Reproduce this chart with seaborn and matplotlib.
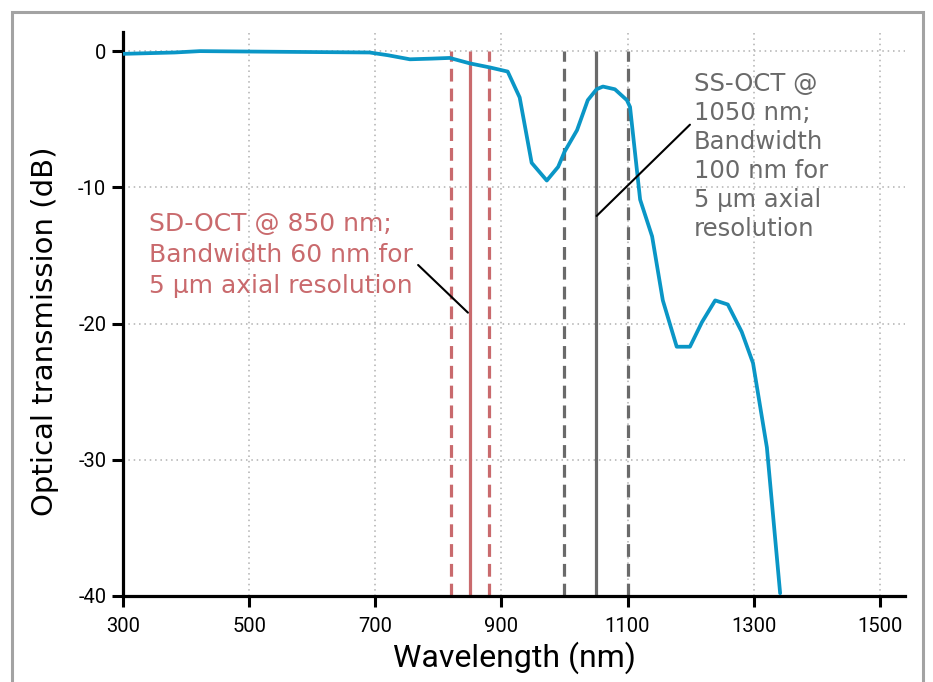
import numpy as np
import pandas as pd
import matplotlib
matplotlib.use("Agg")
import matplotlib.pyplot as plt
import seaborn as sns
from matplotlib.patches import Rectangle

# ----------------------------------------
# Data
# ----------------------------------------
wavelength_nm = [300, 382, 422, 550, 691, 720, 755, 790, 818, 850, 882, 910,
                 929, 948, 972, 990, 1000, 1020, 1037, 1051, 1061, 1080,
                 1099, 1104, 1120, 1139, 1156, 1178, 1199, 1218, 1239,
                 1259, 1281, 1299, 1321, 1342]
transmission_db = [-0.2, -0.1, 0.0, -0.05, -0.1, -0.3, -0.6, -0.55, -0.5,
                   -0.9, -1.2, -1.5, -3.4, -8.2, -9.5, -8.5, -7.4, -5.8,
                   -3.6, -2.8, -2.6, -2.8, -3.6, -4.1, -10.9, -13.6, -18.3,
                   -21.7, -21.7, -19.9, -18.3, -18.6, -20.6, -22.9, -29.1,
                   -39.8]

sd_center = 850
sd_edges = [820, 880]
ss_center = 1050
ss_edges = [1000, 1100]

x_ticks = [300, 500, 700, 900, 1100, 1300, 1500]
y_ticks = [0, -10, -20, -30, -40]

df = pd.DataFrame({"Wavelength": wavelength_nm, "Transmission": transmission_db})

# ----------------------------------------
# Style
# ----------------------------------------
sns.set_style("ticks")
plt.rcParams["font.family"] = ["DejaVu Sans"]
plt.rcParams["axes.unicode_minus"] = False

blue = "#0a96c6"
red = "#c96a6d"
gray = "#6a6a6a"

fig = plt.figure(figsize=(9.33, 6.82), dpi=100)
ax = fig.add_axes([0.1318, 0.1261, 0.970 - 0.1318, 0.953 - 0.1261])

# outer frame
fig.patches.append(Rectangle((0.0129, -0.05), 0.989 - 0.0129, 0.9824 + 0.05,
                             transform=fig.transFigure, fill=False,
                             edgecolor="#a3a3a3", linewidth=2.2, zorder=0))

# ----------------------------------------
# Grid
# ----------------------------------------
for xv in x_ticks[1:]:
    ax.axvline(xv, color="#b0b0b0", linestyle=(0, (1, 2.5)), linewidth=1.1, zorder=0)
for yv in y_ticks[:-1]:
    ax.axhline(yv, color="#b0b0b0", linestyle=(0, (1, 2.5)), linewidth=1.1, zorder=0)

# ----------------------------------------
# Band markers
# ----------------------------------------
ax.vlines(sd_edges, -40, 0, colors=red, linestyles=(0, (4, 2.2)), linewidth=2.3, zorder=2)
ax.vlines([sd_center], -40, 0, colors=red, linewidth=2.3, zorder=2)
ax.vlines(ss_edges, -40, 0, colors=gray, linestyles=(0, (4, 2.2)), linewidth=2.3, zorder=2)
ax.vlines([ss_center], -40, 0, colors=gray, linewidth=2.3, zorder=2)

# ----------------------------------------
# Transmission curve
# ----------------------------------------
sns.lineplot(data=df, x="Wavelength", y="Transmission", ax=ax,
             color=blue, linewidth=2.7, sort=False, zorder=3)

# ----------------------------------------
# Annotations
# ----------------------------------------
ax.text(342, -11.8, "SD-OCT @ 850 nm;\nBandwidth 60 nm for\n5 \u00b5m axial resolution",
        color=red, fontsize=18, va="top", ha="left", linespacing=1.36)
ax.plot([768, 847], [-15.7, -19.2], color="black", linewidth=1.5, zorder=4)

ax.text(1205, -1.5, "SS-OCT @\n1050 nm;\nBandwidth\n100 nm for\n5 \u00b5m axial\nresolution",
        color=gray, fontsize=17.5, va="top", ha="left", linespacing=1.27)
ax.plot([1199, 1051], [-5.4, -12.1], color="black", linewidth=1.5, zorder=4)

# ----------------------------------------
# Axes
# ----------------------------------------
ax.set_xlim(300, 1540)
ax.set_ylim(-40, 1.4)
ax.set_xticks(x_ticks)
ax.set_yticks(y_ticks)
ax.tick_params(direction="out", length=8, width=2.2, labelsize=14.5,
               colors="black")
ax.tick_params(axis="x", pad=7)
ax.tick_params(axis="y", pad=4)
for lbl in ax.get_xticklabels() + ax.get_yticklabels():
    lbl.set_family(["Roboto", "DejaVu Sans"])
ax.spines["top"].set_visible(False)
ax.spines["right"].set_visible(False)
for side in ["left", "bottom"]:
    ax.spines[side].set_linewidth(2.3)
    ax.spines[side].set_color("black")

ax.set_xlabel("Wavelength (nm)", fontsize=23, color="black",
              family=["Roboto", "DejaVu Sans"], labelpad=4)
ax.set_ylabel("Optical transmission (dB)", fontsize=21, color="black")
ax.yaxis.set_label_coords(-0.082, 0.47)

fig.savefig("out.png", dpi=100)
